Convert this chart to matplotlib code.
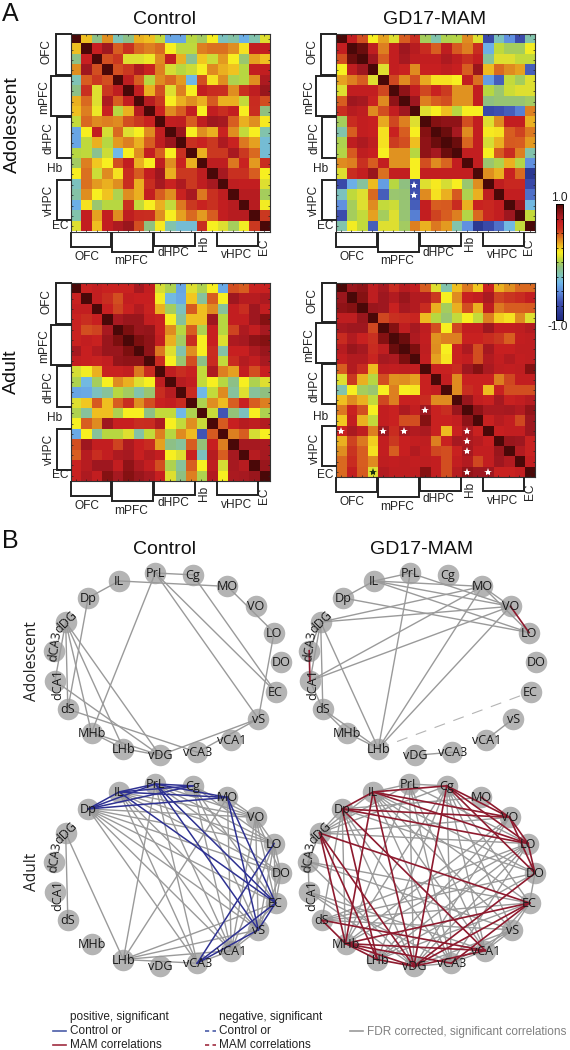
import matplotlib
matplotlib.use("Agg")
import matplotlib.pyplot as plt
import numpy as np
from matplotlib.colors import LinearSegmentedColormap, Normalize

plt.rcParams["font.family"] = ["Liberation Sans", "DejaVu Sans"]

# upper triangles of the correlation matrices, row by row (diagonal is 1)
ctrl_adol = [
    [.27, -.1, .37, -.22, -.1, .3, .27, .05, -.42, -.42, .03, -.03, .17, -.25, -.18, -.38, -.2, .1],
    [.67, .8, .47, .57, .45, .4, .45, .17, .04, .04, .4, .43, .43, .37, .2, .68, .68],
    [.5, .55, .1, .1, .14, .38, .68, .3, -.12, .25, .07, .35, .17, -.05, .33, .27],
    [.5, .55, .75, .65, .4, .08, .03, .07, .17, .38, .3, .26, .03, .68, .68],
    [.7, .47, .03, .38, .45, .35, -.35, .5, .2, .37, 0, .03, .37, .75],
    [.68, .3, .5, .1, .4, .17, .68, .6, .58, .37, .57, .7, .82],
    [.72, .55, .17, .3, .37, .3, .48, .3, .3, .05, .6, .5],
    [.65, .38, .47, .68, .17, .68, .58, .68, .17, .58, -.08],
    [.68, .7, .47, .7, .8, .78, .47, .3, .37, .18],
    [.82, .17, .37, .3, .65, .37, .05, .17, -.2],
    [.57, .65, .55, .75, .65, .42, .33, -.3],
    [.3, .55, .55, .77, .55, .45, -.3],
    [.7, .7, .42, .65, .35, .58],
    [.78, .57, .57, .47, .17],
    [.7, .68, .68, .1],
    [.72, .72, -.02],
    [.72, .15],
    [.55],
]
mam_adol = [
    [.68, .5, .17, .33, .1, .47, .58, -.02, -.2, 0, .02, .38, .1, -.75, -.25, -.5, -.72, -.2],
    [.93, .7, .4, .68, .8, .72, .6, .47, .7, .48, .4, .58, -.38, .04, -.02, -.02, .15],
    [.8, .47, .68, .78, .7, .68, .68, .75, .7, .57, .68, -.15, .1, .1, .05, .05],
    [.1, .68, .65, .38, .67, .67, .7, .67, .47, .82, .28, .45, .38, .33, -.65],
    [.52, .38, .5, .32, .2, .2, .17, .68, .43, -.45, -.65, .05, -.02, .1],
    [.85, .68, .52, .66, .54, .36, .36, .68, .03, -.05, .07, .1, .1],
    [.8, .4, .47, .5, .36, .36, .68, -.08, -.06, -.06, -.06, -.03],
    [.1, .17, .27, .03, .17, .17, -.75, -.7, -.65, -.55, .4],
    [.88, .85, .85, .5, .68, .1, .38, .68, .68, .3],
    [.93, .78, .38, .68, .18, .2, .47, .53, .42],
    [.93, .46, .68, .08, .3, .48, .47, .35],
    [.68, .68, .17, .48, .6, .4, -.2],
    [.68, -.05, 0, .3, .02, -.5],
    [.37, .3, .65, .45, -.88],
    [.7, .62, .62, -.75],
    [.68, .68, -.6],
    [.8, -.33],
    [.05],
]
ctrl_adult = [
    [.66, .68, .66, .65, .65, .78, .68, .08, 0, -.42, .1, 0, .17, -.4, .5, .47, .65, .66],
    [.68, .58, .5, .68, .67, .67, .15, -.33, -.4, .25, -.15, .47, .17, .8, .72, .72, .75],
    [.67, .53, .66, .74, .65, .3, -.02, -.25, .48, .27, .38, -.15, .68, .58, .8, .68],
    [.77, .82, .82, .68, .66, .17, -.15, .27, .27, .8, .03, .68, .68, .8, .88],
    [.9, .82, .83, .66, .38, .03, .47, 0, .67, .03, .53, .75, .68, .78],
    [.9, .85, .68, .3, -.03, .58, .17, .67, .1, .75, .78, .85, .88],
    [.85, .42, .1, -.2, .37, .17, .58, -.18, .67, .67, .75, .82],
    [.6, .17, -.05, .5, -.1, .6, .05, .6, .73, .68, .77],
    [.7, .58, .66, .05, .75, .4, .33, .68, .5, .67],
    [.72, .68, .05, .17, .03, -.1, .17, 0, .1],
    [.6, -.35, .05, .38, -.15, .1, -.15, -.08],
    [0, .37, .28, .47, .66, .47, .4],
    [.06, -.68, -.07, -.25, .17, 0],
    [.48, .67, .72, .7, .74],
    [.4, .47, .08, .17],
    [.78, .78, .76],
    [.72, .78],
    [.82],
]
mam_adult = [
    [.82, .85, .7, .78, .6, .72, .68, .47, .1, -.2, .27, .42, .25, .66, .3, .37, .45, .45],
    [.88, .7, .8, .74, .82, .74, .74, .55, .17, .38, .66, .68, .76, .53, .56, .6, .68],
    [.82, .8, .66, .78, .74, .6, .3, -.02, .3, .5, .3, .7, .42, .47, .47, .48],
    [.52, .57, .6, .64, .28, .03, -.05, .05, .17, .05, .4, .24, .2, .38, .1],
    [.88, .7, .78, .7, .5, .17, .52, .68, .68, .8, .68, .68, .7, .74],
    [.93, .75, .68, .36, .4, .4, .66, .66, .6, .55, .47, .68, .7],
    [.9, .7, .37, .17, .66, .75, .5, .78, .67, .67, .7, .7],
    [.68, .33, .19, .66, .68, .5, .74, .68, .74, .68, .7],
    [.66, .66, .6, .8, .88, .76, .7, .68, .7, .88],
    [.68, .38, .66, .66, .66, .4, .52, .68, .68],
    [.38, .58, .66, .28, .66, .5, .5, .5],
    [.82, .68, .66, .78, .66, .68, .72],
    [.85, .76, .76, .78, .74, .84],
    [.66, .72, .68, .52, .8],
    [.67, .68, .68, .8],
    [.82, .8, .66],
    [.74, .66],
    [.68],
]

# significant cells as (row, column)
stars_mam_adol = [(14, 7), (15, 7)]
stars_mam_adult = [(12, 8), (14, 0), (14, 4), (14, 6), (14, 12), (15, 12), (16, 12), (18, 12), (18, 14)]
dark_stars_mam_adult = [(18, 3)]

# clockwise round the circle, starting at MO
regions = ["MO", "VO", "LO", "DO", "EC", "vS", "vCA1", "vCA3", "vDG", "LHb", "MHb", "dS",
           "dCA1", "dCA3", "dDG", "Dp", "IL", "PrL", "Cg"]
bracket_groups = [("OFC", 0, 4), ("mPFC", 4, 8), ("dHPC", 8, 12), ("vHPC", 14, 18)]

ctrl_adol_gray = ["Dp-IL", "IL-MO", "PrL-Cg", "Cg-EC", "MO-LO", "PrL-EC", "PrL-vS", "PrL-MHb", "LO-vS",
                  "Dp-dS", "dDG-dCA1", "dDG-dS", "dDG-MHb", "dDG-LHb", "dDG-vDG", "dCA1-vDG", "dS-vCA3",
                  "MHb-vDG", "MHb-LHb", "LHb-vDG", "vS-vDG", "vS-vCA3"]
mam_adol_gray = ["Dp-IL", "IL-PrL", "PrL-VO", "IL-MO", "IL-VO", "IL-LO", "Dp-LO", "MO-VO", "MO-LO",
                 "dDG-MO", "dDG-VO", "dCA1-MO", "dCA1-VO", "LHb-MO", "LHb-VO", "LHb-PrL", "LHb-dDG",
                 "dDG-dCA3", "dDG-dCA1", "dDG-dS", "dCA1-dS", "dS-MHb", "dS-LHb", "MHb-LHb",
                 "vDG-vCA3", "vCA1-vS"]
mam_adol_red = ["VO-LO", "dCA3-dCA1"]
mam_adol_dashed = ["LHb-EC"]
ctrl_adult_gray = ["dDG-dS", "dDG-LHb", "LHb-PrL", "LHb-MO", "LHb-vCA1", "LHb-vS", "LHb-EC", "LHb-vCA3",
                   "Dp-vCA1", "Dp-vS", "Dp-EC", "Dp-DO", "Dp-LO", "Dp-VO", "Dp-vCA3",
                   "IL-vCA1", "IL-vS", "IL-DO", "IL-LO", "IL-VO", "IL-vCA3",
                   "PrL-DO", "PrL-LO", "PrL-VO", "PrL-vCA1", "PrL-vCA3",
                   "Cg-VO", "Cg-LO", "Cg-EC", "Cg-vCA1", "Cg-vS", "MO-VO", "MO-vCA1",
                   "VO-LO", "VO-DO", "VO-EC", "VO-vS", "VO-vCA1", "LO-DO", "LO-EC", "LO-vS", "LO-vCA1",
                   "DO-EC", "DO-vS", "EC-vCA1", "vS-vCA1", "vCA1-vCA3"]
ctrl_adult_blue = ["Dp-PrL", "Dp-IL", "Dp-Cg", "Dp-MO", "IL-Cg", "IL-MO", "IL-PrL", "PrL-Cg", "PrL-MO",
                   "IL-EC", "PrL-EC", "PrL-vS", "MO-vS", "MO-EC", "LO-vCA3", "vCA3-EC", "vCA3-vS", "vS-EC"]
mam_adult_gray = ["IL-PrL", "PrL-Cg", "PrL-dDG", "IL-dDG", "Cg-dDG", "dDG-Dp", "dDG-dCA3", "dCA3-dCA1",
                  "dDG-LO", "dDG-VO", "dCA3-EC", "dCA3-vS", "dCA3-vDG", "dCA1-vDG", "dCA1-vCA3", "dCA1-vCA1",
                  "dS-EC", "dS-vS", "dS-LO", "dS-DO", "dS-Dp", "MHb-PrL", "MHb-Cg", "MHb-LO", "MHb-VO",
                  "MHb-Dp", "LHb-Cg", "LHb-VO", "LHb-LO", "LHb-DO", "LHb-EC", "vDG-PrL", "vDG-VO", "vDG-LO",
                  "vCA3-LO", "vCA3-Cg", "vCA3-IL", "vCA3-PrL", "vCA1-IL", "vCA1-PrL", "vCA1-Cg", "vCA1-vS",
                  "vCA1-EC", "vCA3-vCA1", "vCA3-vS", "vDG-vS", "vDG-vCA3", "vS-Cg", "vS-IL", "EC-DO",
                  "EC-IL", "EC-Cg", "EC-vS", "Dp-vDG", "Dp-vCA3", "Dp-DO", "Dp-MO", "IL-DO", "PrL-LO"]
mam_adult_red = ["Cg-VO", "Cg-LO", "Cg-DO", "MO-VO", "VO-LO", "VO-DO", "LO-DO", "IL-LO", "IL-VO", "IL-Cg",
                 "Dp-IL", "Dp-VO", "Dp-LO", "Cg-vDG", "IL-MHb", "IL-vDG", "Dp-LHb", "Dp-vCA1", "dDG-EC",
                 "dDG-MHb", "dDG-LHb", "dDG-vDG", "dS-MHb", "dS-vCA1", "MHb-EC", "MHb-vCA3", "MHb-vCA1",
                 "MHb-vDG", "MHb-LHb", "LHb-vDG", "vDG-EC", "vDG-DO", "vCA3-EC", "vDG-vCA1"]

GRAY = "#9a9a9a"
BLUE = "#2e3192"
RED = "#8e1a2e"

cmap = LinearSegmentedColormap.from_list("heat", [
    (0.0, "#1f2a80"), (0.15, "#3f50b0"), (0.25, "#6090e0"), (0.325, "#70b8e8"), (0.39, "#80c4b4"),
    (0.46, "#90c080"), (0.515, "#b8d840"), (0.55, "#e0e030"), (0.585, "#f8f020"), (0.635, "#f0c020"),
    (0.685, "#e09020"), (0.735, "#d86020"), (0.785, "#c83020"), (0.835, "#c82020"), (0.90, "#a01820"),
    (0.95, "#801010"), (1.0, "#4a0808"),
])
norm = Normalize(-1, 1)

fig = plt.figure(figsize=(5.7, 10.5), dpi=100, facecolor="white")
over = fig.add_axes([0, 0, 1, 1], zorder=5)
over.set_xlim(0, 570)
over.set_ylim(1050, 0)
over.axis("off")
over.patch.set_alpha(0)


def symmetric(rows):
    n = len(rows) + 1
    m = np.eye(n)
    for i, row in enumerate(rows):
        m[i, i + 1:] = row
        m[i + 1:, i] = row
    return m


def heat_panel(rows, box, stars=(), dark_stars=()):
    x0, y0, x1, y1 = box
    ax = fig.add_axes([x0 / 570, 1 - y1 / 1050, (x1 - x0) / 570, (y1 - y0) / 1050])
    ax.imshow(symmetric(rows), cmap=cmap, norm=norm, aspect="auto", interpolation="nearest")
    ax.set_xticks(range(19), labels=[])
    ax.set_yticks(range(19), labels=[])
    ax.tick_params(direction="in", length=1.5, width=0.5, top=True, right=True, color="#222222")
    for s in ax.spines.values():
        s.set_linewidth(0.8)
        s.set_color("#333333")
    for r, c in stars:
        ax.plot(c, r, marker="*", ms=6, color="white", mew=0)
    for r, c in dark_stars:
        ax.plot(c, r, marker="*", ms=6, color="#1a3010", mew=0)
    ax.set_xlim(-0.5, 18.5)
    ax.set_ylim(18.5, -0.5)

    cell_w = (x1 - x0) / 19
    cell_h = (y1 - y0) / 19
    depth_left = {"OFC": 14.5, "mPFC": 20, "dHPC": 14, "vHPC": 14}
    depth_bottom = {"OFC": 15, "mPFC": 20, "dHPC": 14, "vHPC": 14}
    for name, a, b in bracket_groups:
        d = depth_left[name]
        ya, yb = y0 + a * cell_h, y0 + b * cell_h - 1
        over.plot([x0, x0 - d, x0 - d, x0], [ya, ya, yb, yb], color="#222222", lw=1.4, solid_joinstyle="miter")
        d = depth_bottom[name]
        xa, xb = x0 + a * cell_w, x0 + b * cell_w - 1
        over.plot([xa, xa, xb, xb], [y1 + 1, y1 + d, y1 + d, y1 + 1], color="#222222", lw=1.4, solid_joinstyle="miter")

    txt = dict(fontsize=8.6, color="#222222", ha="center", va="center")
    over.text(x0 - 23.5, y0 + 18, "OFC", rotation=90, **txt)
    over.text(x0 - 26.5, y0 + 63, "mPFC", rotation=90, **txt)
    over.text(x0 - 21.5, y0 + 104, "dHPC", rotation=90, **txt)
    over.text(x0 - 15.5, y0 + 135, "Hb", **txt)
    over.text(x0 - 21.5, y0 + 166, "vHPC", rotation=90, **txt)
    over.text(x0 - 10.5, y0 + 192, "EC", **txt)
    over.text(x0 + 16.5, y1 + 25, "OFC", **txt)
    over.text(x0 + 61, y1 + 30, "mPFC", **txt)
    over.text(x0 + 102.5, y1 + 22, "dHPC", **txt)
    over.text(x0 + 134, y1 + 12, "Hb", rotation=90, **txt)
    over.text(x0 + 166.5, y1 + 24, "vHPC", **txt)
    over.text(x0 + 193.5, y1 + 15, "EC", rotation=90, **txt)


def network(cx, cy, gray=(), blue=(), red=(), dashed=()):
    rx, ry = 114, 91.5
    angles = np.radians(58 - np.arange(19) * 360 / 19)
    pos = {name: (cx + rx * np.cos(t), cy - ry * np.sin(t)) for name, t in zip(regions, angles)}
    for name, (x, y) in pos.items():
        over.plot(x, y, "o", ms=15.5, color="#b4b4b4", mew=0, zorder=2)

    def edges(items, **style):
        for edge in items:
            a, b = edge.split("-")
            over.plot([pos[a][0], pos[b][0]], [pos[a][1], pos[b][1]], **style)

    edges(gray, color=GRAY, lw=1.0, zorder=3)
    edges(dashed, color="#b4b4b4", lw=0.8, ls=(0, (10, 8)), zorder=3)
    edges(blue, color=BLUE, lw=1.1, zorder=4)
    edges(red, color=RED, lw=1.2, zorder=4)

    rotation = {"dDG": 45, "dCA3": 82, "dCA1": 90}
    shift = {"dCA3": (1, -5), "dCA1": (3, 3)}
    for name, (x, y) in pos.items():
        dx, dy = shift.get(name, (0, 0))
        over.text(x + dx, y + dy + 0.5, name, fontsize=9.1, family="Open Sans", color="#1a1a1a", ha="center",
                  va="center", rotation=rotation.get(name, 0), zorder=6)


heat_panel(ctrl_adol, (70.5, 34, 269.5, 231.5))
heat_panel(mam_adol, (335.7, 34, 535, 231.5), stars_mam_adol)
heat_panel(ctrl_adult, (70.5, 283, 269.5, 481))
heat_panel(mam_adult, (336, 282.5, 535, 477), stars_mam_adult, dark_stars_mam_adult)

# colour scale
cax = fig.add_axes([556 / 570, 1 - 320 / 1050, 6.5 / 570, 116 / 1050])
cb = fig.colorbar(plt.cm.ScalarMappable(norm=norm, cmap=cmap), cax=cax, ticks=np.arange(-1, 1.01, 0.25))
cb.ax.tick_params(direction="in", length=1.5, width=0.5, labelright=False, left=True, right=True)
cb.outline.set_linewidth(0.7)
over.text(559, 198, "1.0", fontsize=8.6, color="#222222", ha="center", va="center")
over.text(558, 327, "-1.0", fontsize=8.6, color="#222222", ha="center", va="center")

network(167, 664, ctrl_adol_gray)
network(422, 664, mam_adol_gray, red=mam_adol_red, dashed=mam_adol_dashed)
network(167, 875, ctrl_adult_gray, blue=ctrl_adult_blue)
network(421, 875, mam_adult_gray, red=mam_adult_red)

# titles and row labels
title = dict(fontsize=14, color="#111111", ha="center", va="center")
over.text(165, 20, "Control", **title)
over.text(435, 20, "GD17-MAM", **title)
over.text(165, 549, "Control", **title)
over.text(422, 549, "GD17-MAM", **title)
over.text(12, 125, "Adolescent", rotation=90, **title)
over.text(11, 372, "Adult", rotation=90, **title)
over.text(10, 14, "A", fontsize=18, color="#111111", ha="center", va="center")
over.text(10, 541, "B", fontsize=18, color="#111111", ha="center", va="center")
side = dict(fontsize=11.2, family="Open Sans", color="#222222", ha="center", va="center", rotation=90)
over.text(32, 661, "Adolescent", **side)
over.text(32, 872, "Adult", **side)

# legend
leg = dict(fontsize=8.5, color="#222222", va="center")
over.text(70, 1017, "positive, significant", **leg)
over.text(70, 1031.5, "Control or", **leg)
over.text(70, 1045.5, "MAM correlations", **leg)
over.text(219, 1017, "negative, significant", **leg)
over.text(219, 1031.5, "Control or", **leg)
over.text(219, 1045.5, "MAM correlations", **leg)
over.plot([53, 66], [1031, 1031], color="#4a5ca8", lw=1.2)
over.plot([53, 66], [1045, 1045], color="#a02c40", lw=1.2)
over.plot([205, 216], [1031, 1031], color="#4a5ca8", lw=1.2, ls=(0, (2.5, 2)))
over.plot([205, 216], [1045, 1045], color="#a02c40", lw=1.2, ls=(0, (2.5, 2)))
over.plot([350, 363], [1031, 1031], color=GRAY, lw=1.2)
over.text(367, 1031.5, "FDR corrected, significant correlations", fontsize=8.5, color="#808080", va="center")
over.set_xlim(0, 570)
over.set_ylim(1050, 0)

fig.savefig("out.png", dpi=100)
